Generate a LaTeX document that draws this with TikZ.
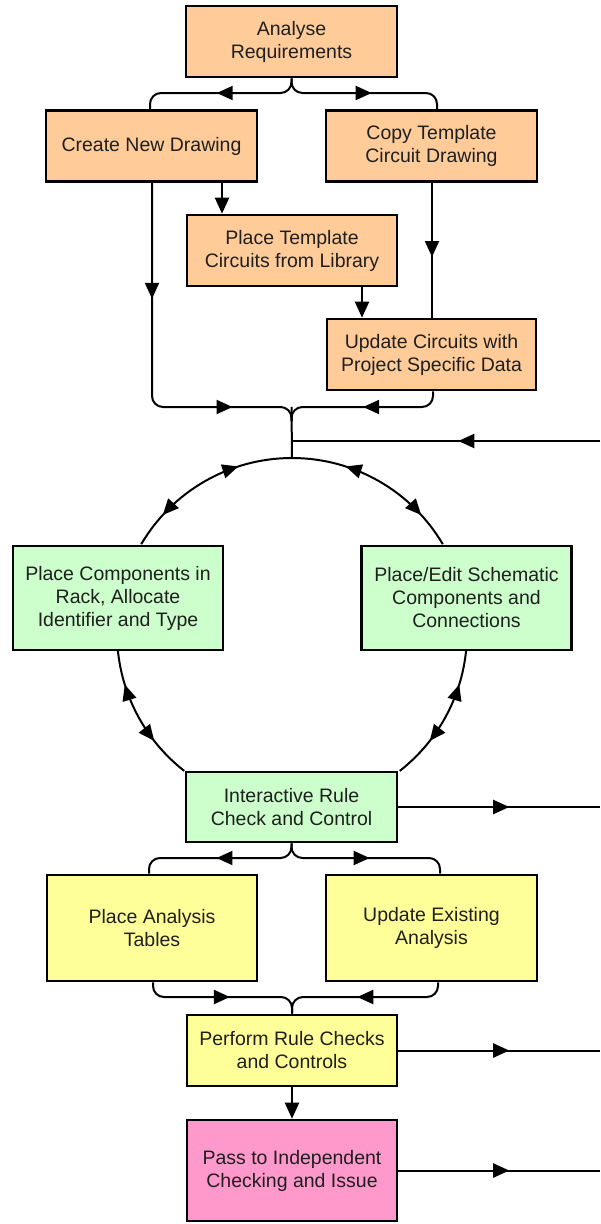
\documentclass[tikz,border=0pt]{standalone}
\usepackage{fontspec}
\setmainfont{Liberation Sans}
\usetikzlibrary{arrows.meta,decorations.markings,calc}
\definecolor{peach}{HTML}{FFCC99}
\definecolor{mint}{HTML}{CCFFCC}
\definecolor{lemon}{HTML}{FFFF99}
\definecolor{rose}{HTML}{FF99CC}
\begin{document}
\begin{tikzpicture}[x=1pt,y=-1pt,
  box/.style={draw=black, line width=2.6pt, align=center, inner sep=0pt,
    minimum width=211pt, minimum height=71pt,
    font=\fontsize{19.5}{23}\selectfont, text=black!88},
  conn/.style={line width=2pt, draw=black},
  tri/.tip={Triangle[length=16pt,width=14pt]},
  ma/.style={postaction={decorate}, decoration={markings,
    mark=at position #1 with {\arrow{tri}}}},
  mab/.style 2 args={postaction={decorate}, decoration={markings,
    mark=at position #1 with {\arrow{tri}},
    mark=at position #2 with {\arrow{tri}}}},
  dbl/.style 2 args={postaction={decorate}, decoration={markings,
    mark=at position #1 with {\arrowreversed{tri}},
    mark=at position #2 with {\arrow{tri}}}},
  rc/.style={rounded corners=11pt}
]
\useasboundingbox (0,0) rectangle (600,1224);

% nodes
\node[box, fill=peach] (ana) at (291.5,41.5) {Analyse\\Requirements};
\node[box, fill=peach] (cnd) at (151.5,146) {Create New Drawing};
\node[box, fill=peach] (ctc) at (431.5,146) {Copy Template\\Circuit Drawing};
\node[box, fill=peach, minimum width=210pt] (ptc) at (292,250.5) {Place Template\\Circuits from Library};
\node[box, fill=peach, minimum width=209pt] (ucp) at (431.5,354.5) {Update Circuits with\\Project Specific Data};
\node[box, fill=mint, minimum width=210pt, minimum height=104pt] (pcr) at (118,598) {Place Components in\\Rack, Allocate\\Identifier and Type};
\node[box, fill=mint, minimum width=210pt, minimum height=104pt] (pes) at (466.5,598) {Place/Edit Schematic\\Components and\\Connections};
\node[box, fill=mint, minimum height=70pt] (irc) at (291.5,807) {Interactive Rule\\Check and Control};
\node[box, fill=lemon, minimum width=210pt, minimum height=106pt] (pat) at (152,928) {Place Analysis\\Tables};
\node[box, fill=lemon, minimum height=106pt] (uea) at (431.5,928) {Update Existing\\Analysis};
\node[box, fill=lemon, minimum width=210pt] (prc) at (292,1050.5) {Perform Rule Checks\\and Controls};
\node[box, fill=rose, minimum width=210pt, minimum height=101pt] (pti) at (292,1170.5) {Pass to Independent\\Checking and Issue};

% helper coordinates
\coordinate (edge) at (600,0);
\coordinate (fL) at (150,93);
\coordinate (fR) at (437,93);
\coordinate (xa) at (222,0);
\coordinate (xb) at (152,0);
\coordinate (xc) at (432,0);
\coordinate (xd) at (362,0);
\coordinate (xe) at (433,0);
\coordinate (mg) at (291.5,407);
\coordinate (mgl) at (291.5,421);
\coordinate (cc) at (292,633);
\coordinate (ctop) at (292,458);
\coordinate (ein) at (600,441);
\coordinate (gL) at (149,858);
\coordinate (gR) at (440,858);
\coordinate (hL) at (153,997);
\coordinate (hR) at (438,997);
\coordinate (hm) at (292,997);

% top fork
\draw[conn, rc, ma=0.52] (ana.south) |- (fL) -- (fL |- cnd.north);
\draw[conn, rc, ma=0.54] (ana.south) |- (fR) -- (fR |- ctc.north);
\draw[conn, -{tri}] (cnd.south -| xa) -- (ptc.north -| xa);
\draw[conn, ma=0.55] (ctc.south -| xc) -- (ucp.north -| xc);
\draw[conn, -{tri}] (ptc.south -| xd) -- (ucp.north -| xd);

% merge above circle
\draw[conn, rc, mab={116pt}{300pt}] (cnd.south -| xb) |- (mg) -- (mgl);
\draw[conn, rc, ma=0.5] (ucp.south -| xe) |- (mg) -- (mgl);
\draw[conn] (mg) -- (ctop);
\draw[conn, ma=0.46] (ein) -- (ein -| ctop);

% circle
\draw[conn, dbl={0.3}{0.8}] (ctop) arc[start angle=90, end angle=149.5, radius=175pt];
\draw[conn, dbl={0.3}{0.8}] (ctop) arc[start angle=90, end angle=30.5, radius=175pt];
\draw[conn, dbl={0.25}{0.7}] ($(cc)+(185.5:175pt)$) arc[start angle=185.5, end angle=232, radius=175pt];
\draw[conn, dbl={0.25}{0.7}] ($(cc)+(-5.5:175pt)$) arc[start angle=-5.5, end angle=-52, radius=175pt];

% interactive check
\draw[conn, ma=0.55] (irc.east) -- (irc.east -| edge);
\draw[conn, rc, ma=0.52] (irc.south) |- (gL) -- (gL |- pat.north);
\draw[conn, rc, ma=0.52] (irc.south) |- (gR) -- (gR |- uea.north);

% merge to rule checks
\draw[conn, rc, ma=0.54] (pat.south -| hL) |- (hm) -- (prc.north);
\draw[conn, rc, ma=0.54] (uea.south -| hR) |- (hm) -- (prc.north);
\draw[conn, ma=0.55] (prc.east) -- (prc.east -| edge);
\draw[conn, -{tri}] (prc.south) -- (pti.north);
\draw[conn, ma=0.55] (pti.east) -- (pti.east -| edge);
\end{tikzpicture}
\end{document}
